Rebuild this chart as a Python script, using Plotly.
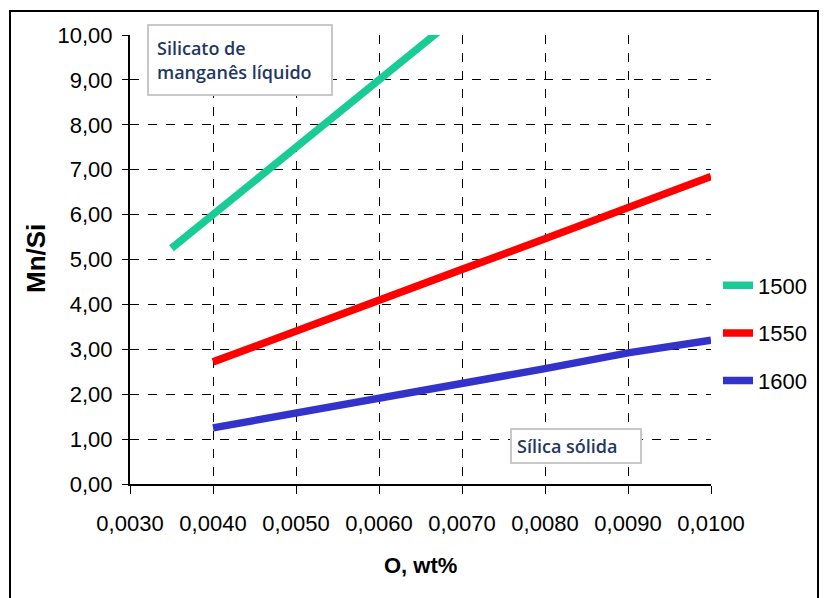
import plotly.graph_objects as go

# Data
o_1500 = [0.0035, 0.0040, 0.0045, 0.0050, 0.0055, 0.0060, 0.0065, 0.0070]
mnsi_1500 = [5.25, 6.00, 6.75, 7.50, 8.25, 9.00, 9.75, 10.50]

o_1550 = [0.0040, 0.0050, 0.0060, 0.0070, 0.0080, 0.0090, 0.0100]
mnsi_1550 = [2.72, 3.42, 4.10, 4.78, 5.46, 6.15, 6.85]

o_1600 = [0.0040, 0.0050, 0.0060, 0.0070, 0.0080, 0.0090, 0.0100]
mnsi_1600 = [1.25, 1.57, 1.90, 2.23, 2.57, 2.92, 3.20]

series_names = ["1500", "1550", "1600"]
colors = ["#19CC96", "#FF0000", "#3333CC"]

x_ticks = [0.0030, 0.0040, 0.0050, 0.0060, 0.0070, 0.0080, 0.0090, 0.0100]
y_ticks = [0, 1, 2, 3, 4, 5, 6, 7, 8, 9, 10]

sans = "Liberation Sans, Arial"

L, R, T, B = 130, 711, 35, 484
PW, PH = R - L, B - T


def px(xp):
    return (xp - L) / PW


def py(yp):
    return (B - yp) / PH


fig = go.Figure()
for i, (xs, ys) in enumerate([(o_1500, mnsi_1500), (o_1550, mnsi_1550), (o_1600, mnsi_1600)]):
    fig.add_trace(go.Scatter(
        x=xs, y=ys, mode="lines", name=series_names[i],
        legendgroup=series_names[i],
        line=dict(color=colors[i], width=7.5),
    ))

fig.update_layout(
    width=827, height=598,
    margin=dict(l=L, r=827 - R, t=T, b=598 - B),
    paper_bgcolor="white", plot_bgcolor="white",
    separators=",.",
    showlegend=True,
    legend=dict(
        x=px(718), y=py(333), xanchor="left", yanchor="middle",
        font=dict(family=sans, size=22, color="black"),
        traceorder="grouped", tracegroupgap=16,
        bgcolor="rgba(0,0,0,0)", itemwidth=30,
    ),
    xaxis=dict(
        range=[0.0030, 0.0100], tickvals=x_ticks, tickformat=".4f",
        showline=True, linecolor="black", linewidth=2,
        ticks="outside", ticklen=8, tickcolor="black", tickwidth=1,
        showgrid=True, gridcolor="black", gridwidth=1, griddash="dash",
        zeroline=False, automargin=False, ticklabelstandoff=11,
        tickfont=dict(family=sans, size=22, color="black"),
    ),
    yaxis=dict(
        range=[0, 10], tickvals=y_ticks, tickformat=".2f",
        showline=True, linecolor="black", linewidth=2,
        ticks="outside", ticklen=6, tickcolor="black", tickwidth=1,
        showgrid=True, gridcolor="black", gridwidth=1, griddash="dash",
        zeroline=False, automargin=False, ticklabelstandoff=5,
        tickfont=dict(family=sans, size=22, color="black"),
    ),
)

# Axis titles
fig.add_annotation(xref="paper", yref="paper", x=px(36), y=py(259),
                   text="<b>Mn/Si</b>", textangle=-90, showarrow=False,
                   xanchor="center", yanchor="middle",
                   font=dict(family=sans, size=26, color="black"))
fig.add_annotation(xref="paper", yref="paper", x=px(420), y=py(565),
                   text="<b>O, wt%</b>", showarrow=False,
                   xanchor="center", yanchor="middle",
                   font=dict(family=sans, size=22, color="black"))

# Outer frame
fig.add_shape(type="rect", xref="paper", yref="paper",
              x0=px(10), x1=px(818), y0=-0.4, y1=py(11),
              line=dict(color="black", width=2), fillcolor="rgba(0,0,0,0)", layer="below")

ann_font = dict(family="Open Sans, DejaVu Sans Condensed", size=18, color="#1F3864", weight=600)
fig.add_annotation(xref="paper", yref="paper", x=px(147), y=py(24),
                   xanchor="left", yanchor="top", align="left", valign="middle",
                   width=166, height=52,
                   text="Silicato de<br>manganês líquido", showarrow=False,
                   font=ann_font, bgcolor="white", bordercolor="#C8C8C8", borderwidth=2,
                   borderpad=8)
fig.add_annotation(xref="paper", yref="paper", x=px(510), y=py(428),
                   xanchor="left", yanchor="top", align="left", valign="middle",
                   width=118, height=22,
                   text="Sílica sólida", showarrow=False,
                   font=ann_font, bgcolor="white", bordercolor="#C8C8C8", borderwidth=2,
                   borderpad=5)

fig.write_html("out.html", config={"displayModeBar": False},
               post_script="document.body.style.margin='0';document.body.style.overflow='hidden';")
